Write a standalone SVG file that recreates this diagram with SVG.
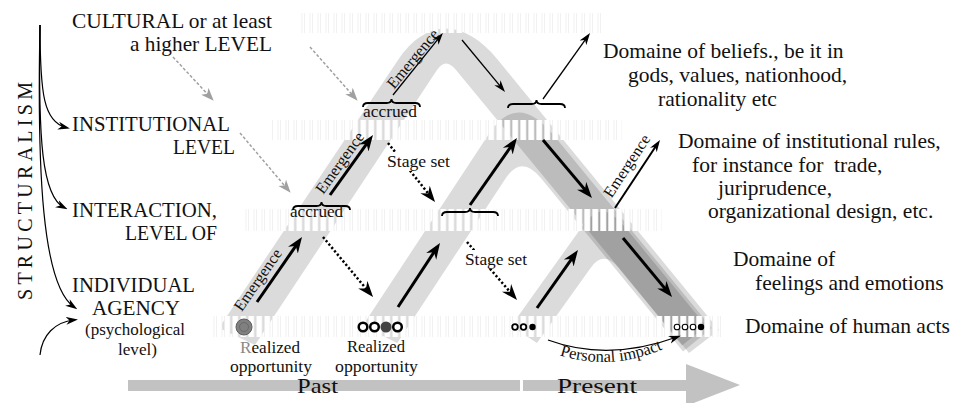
<svg xmlns="http://www.w3.org/2000/svg" width="960" height="403" viewBox="0 0 960 403">
<defs>
<style>
text{font-family:"Liberation Serif","Times New Roman",serif;fill:#111}
.lv{font-size:21px}
.lvs{font-size:17px}
.dm{font-size:21.5px}
.em{font-size:16px}
.sm{font-size:16.5px}
.band{fill:#000;fill-opacity:0.14}
.thick{stroke:#000;stroke-width:3;fill:none;marker-end:url(#big)}
.dot{stroke:#000;stroke-width:2.5;stroke-dasharray:2.2 2.2;fill:none;marker-end:url(#big)}
.thin{stroke:#000;stroke-width:1.3;fill:none;marker-end:url(#sm)}
.med{stroke:#000;stroke-width:2;fill:none;marker-end:url(#sm)}
.gray{stroke:#a0a0a0;stroke-width:1.5;stroke-dasharray:3 2;fill:none;marker-end:url(#gr)}
.curve{stroke:#000;stroke-width:1.2;fill:none;marker-end:url(#sm)}
.brace{stroke:#000;stroke-width:1.8;fill:none}
.strip{fill:url(#hatch)}
</style>
<marker id="big" markerUnits="userSpaceOnUse" markerWidth="17" markerHeight="14" refX="10" refY="7" orient="auto"><path d="M0,1 L16,7 L0,13 L5,7 Z" fill="#000"/></marker>
<marker id="sm" markerUnits="userSpaceOnUse" markerWidth="12" markerHeight="9" refX="8" refY="4.5" orient="auto"><path d="M0,0.5 L12,4.5 L0,8.5 L3.5,4.5 Z" fill="#000"/></marker>
<marker id="gr" markerUnits="userSpaceOnUse" markerWidth="13" markerHeight="11" refX="8" refY="5.5" orient="auto"><path d="M0,0.5 L13,5.5 L0,10.5 L3.5,5.5 Z" fill="#a0a0a0"/></marker>
<pattern id="hatch" patternUnits="userSpaceOnUse" x="0" y="0" width="8" height="403"><rect x="0.5" y="0" width="5.5" height="403" fill="#fff" stroke="#ebebeb" stroke-width="0.7"/></pattern>
</defs>
<rect width="960" height="403" fill="#fff"/>

<g id="bands">
<path class="band" d="M219,328 L398,60 C426,18 464,18 498,60 L719,330 L689,353 L456,70 Q445.6,57 437,70 L255,345 Z"/>
<path class="band" d="M362.5,326 L488.2,135 C507.9,105 528.9,105 553.5,135 L711.7,328 L683.1,351.4 L540.8,178 Q521.5,154.3 505.9,178 L397.3,343 Z"/>
<path class="band" d="M511.1,326 L581.1,228 C596.8,206 607.8,206 625.8,228 L706.1,326 L682.1,345.6 L618.7,268 Q603.6,249.7 590.6,268 L537,343 Z"/>
</g>

<g id="levels">
<rect class="strip" x="300" y="13" width="305" height="20"/>
<rect class="strip" x="272" y="120" width="350" height="20"/>
<rect class="strip" x="243" y="209" width="419" height="22"/>
<rect class="strip" x="213" y="316" width="509" height="21"/>
</g>

<g id="time-axis">
<rect x="128" y="380" width="559" height="11" fill="#c2c2c2"/>
<rect x="520" y="378" width="3" height="15" fill="#fff"/>
<path d="M686,364 L740,385 L686,406 Z" fill="#c2c2c2"/>
<text x="297" y="393" font-size="22" textLength="41" lengthAdjust="spacingAndGlyphs">Past</text>
<text x="557" y="393" font-size="22" textLength="80" lengthAdjust="spacingAndGlyphs">Present</text>
</g>

<g id="connectors">
<path class="curve" d="M40,25 C40,95 44,122 66,127.5"/>
<path class="curve" d="M40,25 C38,140 42,196 64,207.5"/>
<path class="curve" d="M40,25 C37,170 42,285 74,307"/>
<path class="curve" d="M40,355 C42,335 55,322 74,320"/>

<line class="gray" x1="173" y1="57" x2="210.3" y2="97.1"/>
<line class="gray" x1="310" y1="47" x2="354.3" y2="97"/>
<line class="gray" x1="240" y1="133" x2="287.4" y2="189"/>

<line class="thick" x1="257" y1="302" x2="298.6" y2="241.9"/>
<line class="thick" x1="330" y1="195" x2="369.5" y2="139.9"/>
<line class="thick" x1="398" y1="307" x2="436.7" y2="248"/>
<line class="thick" x1="470" y1="205" x2="513.5" y2="142.9"/>
<line class="thick" x1="543" y1="140" x2="588.1" y2="193.4"/>
<line class="thick" x1="537" y1="308" x2="574.5" y2="254.9"/>
<line class="thick" x1="623" y1="238" x2="668.2" y2="292.4"/>

<line class="dot" x1="388" y1="143" x2="431.3" y2="197.3"/>
<line class="dot" x1="323" y1="237" x2="369.2" y2="292.4"/>
<line class="dot" x1="467" y1="242" x2="513.1" y2="295.5"/>

<line class="thin" x1="393" y1="95" x2="440.4" y2="36.1"/>
<line class="thin" x1="462" y1="40" x2="502.5" y2="88.9"/>
<line class="thin" x1="543" y1="99" x2="587.7" y2="36.3"/>
<line class="med" x1="615" y1="208" x2="657.8" y2="143.3"/>

<path class="thin" d="M548,340 Q608,362 677,337"/>

<path class="brace" d="M293,210 Q293,206 298,206 L316.5,206 Q321.5,206 321.5,202 Q321.5,206 326.5,206 L345,206 Q350,206 350,210"/>
<path class="brace" d="M363,107 Q363,103 368,103 L386.5,103 Q391.5,103 391.5,99 Q391.5,103 396.5,103 L415,103 Q420,103 420,107"/>
<path class="brace" d="M508,108 Q508,104 513,104 L531.5,104 Q536.5,104 536.5,100 Q536.5,104 541.5,104 L560,104 Q565,104 565,108"/>
<path class="brace" d="M442,216 Q442,212 447,212 L465,212 Q470,212 470,208 Q470,212 475,212 L493,212 Q498,212 498,216"/>
</g>

<g id="edge-labels">
<text class="em" transform="translate(258,280) rotate(-55.3)" x="0" y="5" text-anchor="middle">Emergence</text>
<text class="em" transform="translate(340,163) rotate(-54.4)" x="0" y="5" text-anchor="middle">Emergence</text>
<text class="em" transform="translate(413,59) rotate(-50.2)" x="0" y="5" text-anchor="middle">Emergence</text>
<text class="em" font-size="15" transform="translate(627,166) rotate(-56.5)" x="0" y="5" text-anchor="middle">Emergence</text>
<rect x="385" y="152" width="68" height="19" fill="#fff"/>
<text class="sm" x="387" y="167" textLength="63" lengthAdjust="spacingAndGlyphs">Stage set</text>
<rect x="463" y="250" width="67" height="19" fill="#fff"/>
<text class="sm" x="465" y="265" textLength="62" lengthAdjust="spacingAndGlyphs">Stage set</text>
<text class="sm" x="290" y="217" textLength="53" lengthAdjust="spacingAndGlyphs">accrued</text>
<text class="sm" x="363" y="117" textLength="54" lengthAdjust="spacingAndGlyphs">accrued</text>
<path id="pi" d="M550,352 Q610,375 672,345" fill="none"/>
<text class="sm"><textPath href="#pi" startOffset="50%" text-anchor="middle">Personal impact</textPath></text>
</g>

<g id="node-structuralism">
<text font-size="20" transform="translate(32,300) rotate(-90)" x="0" y="0" textLength="218">STRUCTURALISM</text>
</g>
<g id="node-cultural">
<text class="lv" x="272" y="28" text-anchor="end" textLength="200" lengthAdjust="spacingAndGlyphs">CULTURAL or at least</text>
<text class="lv" x="272" y="51" text-anchor="end" textLength="142" lengthAdjust="spacingAndGlyphs">a higher LEVEL</text>
</g>
<g id="node-institutional">
<text class="lv" x="72" y="131" textLength="158" lengthAdjust="spacingAndGlyphs">INSTITUTIONAL</text>
<text class="lv" x="173" y="154" textLength="62" lengthAdjust="spacingAndGlyphs">LEVEL</text>
</g>
<g id="node-interaction">
<text class="lv" x="72" y="217" textLength="145" lengthAdjust="spacingAndGlyphs">INTERACTION,</text>
<text class="lv" x="125" y="240" textLength="92" lengthAdjust="spacingAndGlyphs">LEVEL OF</text>
</g>
<g id="node-individual">
<text class="lv" x="72" y="292" textLength="123" lengthAdjust="spacingAndGlyphs">INDIVIDUAL</text>
<text class="lv" x="92" y="315" textLength="88" lengthAdjust="spacingAndGlyphs">AGENCY</text>
<text class="lvs" x="85" y="335" textLength="100" lengthAdjust="spacingAndGlyphs">(psychological</text>
<text class="lvs" x="118" y="355" textLength="39" lengthAdjust="spacingAndGlyphs">level)</text>
</g>

<g id="node-beliefs">
<text class="dm" x="603" y="58">Domaine of beliefs., be it in</text>
<text class="dm" x="628" y="82">gods, values, nationhood,</text>
<text class="dm" x="658" y="106">rationality etc</text>
</g>
<g id="node-rules">
<text class="dm" x="678" y="148">Domaine of institutional rules,</text>
<text class="dm" x="692" y="172" style="white-space:pre">for instance for  trade,</text>
<text class="dm" x="718" y="195">juriprudence,</text>
<text class="dm" x="708" y="218">organizational design, etc.</text>
</g>
<g id="node-feelings">
<text class="dm" x="733" y="266">Domaine of</text>
<text class="dm" x="755" y="290">feelings and emotions</text>
</g>
<g id="node-acts">
<text class="dm" x="745" y="333">Domaine of human acts</text>
</g>

<g id="node-opportunity1">
<circle cx="244" cy="327" r="8" fill="#808080" stroke="#5e5e5e" stroke-width="1"/>
<circle cx="244" cy="327" r="4.5" fill="none" stroke="#6a6a6a" stroke-width="1"/>
<text class="sm" x="240" y="353" textLength="60" lengthAdjust="spacingAndGlyphs"><tspan fill="#8a8a8a">R</tspan>ealized</text>
<text class="sm" x="230" y="372" textLength="82" lengthAdjust="spacingAndGlyphs">opportunity</text>
</g>
<g id="node-opportunity2">
<circle cx="363" cy="327" r="4.3" fill="#fff" stroke="#000" stroke-width="2.5"/>
<circle cx="374.5" cy="327" r="4.3" fill="#fff" stroke="#000" stroke-width="2.5"/>
<circle cx="386" cy="327" r="4.3" fill="#444" stroke="#444" stroke-width="2.5"/>
<circle cx="397.5" cy="327" r="4.3" fill="#fff" stroke="#000" stroke-width="2.5"/>
<text class="sm" x="347" y="352" textLength="58" lengthAdjust="spacingAndGlyphs">Realized</text>
<text class="sm" x="335" y="372" textLength="83" lengthAdjust="spacingAndGlyphs">opportunity</text>
</g>
<g id="node-present-acts">
<circle cx="515" cy="327" r="2.8" fill="#fff" stroke="#000" stroke-width="1.8"/>
<circle cx="523.5" cy="327" r="2.8" fill="#fff" stroke="#000" stroke-width="1.8"/>
<circle cx="532.5" cy="327" r="3.2" fill="#000"/>
</g>
<g id="node-impact-acts">
<circle cx="677" cy="327" r="2.8" fill="#fff" stroke="#000" stroke-width="1.1"/>
<circle cx="685" cy="327" r="2.8" fill="#fff" stroke="#000" stroke-width="1.1"/>
<circle cx="693" cy="327" r="2.8" fill="#fff" stroke="#000" stroke-width="1.1"/>
<circle cx="701" cy="327" r="3.2" fill="#000"/>
</g>
</svg>
